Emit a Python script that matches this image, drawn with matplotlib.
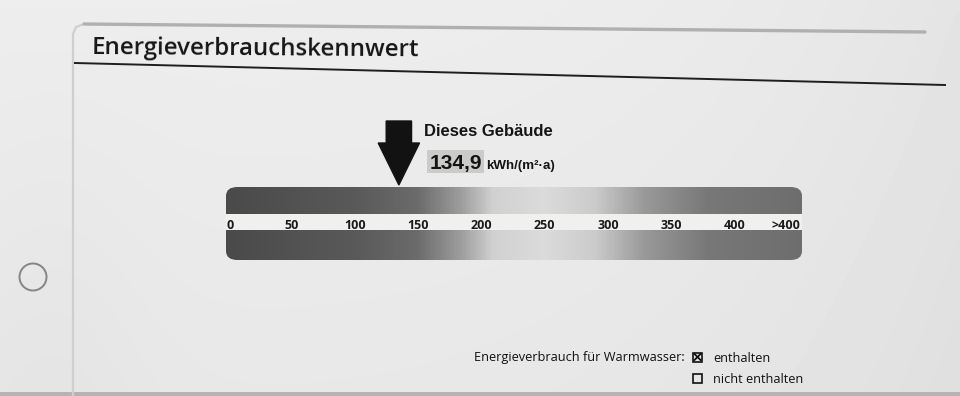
import numpy as np
import matplotlib.pyplot as plt
from matplotlib.patches import FancyBboxPatch, Rectangle, Circle, Polygon
from matplotlib.colors import LinearSegmentedColormap

# chart content
title = "Energieverbrauchskennwert"
building_label = "Dieses Gebäude"
building_value = 134.9
unit_label = "kWh/(m²·a)"
tick_values = [0, 50, 100, 150, 200, 250, 300, 350, 400, 440]
tick_labels = ["0", "50", "100", "150", "200", "250", "300", "350", "400", ">400"]
scale_min, scale_max = -1.5, 453
ww_label = "Energieverbrauch für Warmwasser:"
ww_options = ["enthalten", "nicht enthalten"]
ww_checked = [True, False]

# grey tones of the printed colour scale (value, grey level)
grad_stops = [(0, 0.29), (100, 0.35), (150, 0.42), (185, 0.62), (210, 0.82),
              (250, 0.86), (290, 0.80), (330, 0.60), (380, 0.47), (453, 0.43)]

sans = ["Open Sans", "DejaVu Sans"]
arial = ["Liberation Sans", "DejaVu Sans"]

fig = plt.figure(figsize=(9.6, 3.96), dpi=100)

# --- paper background (pixel coordinates) ---
bg = fig.add_axes([0, 0, 1, 1])
bg.set_xlim(0, 960)
bg.set_ylim(396, 0)
bg.axis("off")
gx = np.linspace(0, 1, 120)
gy = np.linspace(0, 1, 60)
X, Y = np.meshgrid(gx, gy)
paper = 0.93 - 0.035 * X**4 - 0.02 * Y - 0.015 * np.exp(-((X - 0.05) / 0.1) ** 2) * Y
bg.imshow(paper, cmap="gray", vmin=0, vmax=1, extent=(0, 960, 396, 0),
          aspect="auto", interpolation="bilinear", zorder=0)
bg.add_patch(Rectangle((0, 392), 960, 4, color="#b4b4b2", lw=0, zorder=1))

# section box outline and title rule
bg.plot([73, 73, 76, 84], [396, 34, 27, 24], color="#cfcfcd", lw=1.6, zorder=2)
bg.plot([84, 925], [24, 32], color="#b0b0ae", lw=2.4, zorder=2, solid_capstyle="round")
bg.plot([75, 945], [63, 85], color="#1e1e1e", lw=1.4, zorder=3)
bg.text(92, 49, title, family=sans, fontsize=17.3, fontweight="semibold", color="#161616",
        va="center", ha="left", rotation=-0.4, zorder=4)

# punched hole
bg.add_patch(Circle((33, 277), 13.5, facecolor="none", edgecolor="#858583", lw=1.4, zorder=2))

# --- scale axes: x in kWh, y in pixels ---
sc = fig.add_axes([226 / 960, 1 - 262 / 396, (802 - 226) / 960, (262 - 115) / 396])
sc.set_xlim(scale_min, scale_max)
sc.set_ylim(262, 115)
sc.axis("off")

v0, v1 = grad_stops[0][0], grad_stops[-1][0]
cmap = LinearSegmentedColormap.from_list(
    "scale", [((v - v0) / (v1 - v0), (g, g, g)) for v, g in grad_stops])
grad = np.linspace(0, 1, 400).reshape(1, -1)
img = sc.imshow(grad, cmap=cmap, extent=(scale_min, scale_max, 260, 187),
                aspect="auto", interpolation="bilinear", zorder=2)
box = FancyBboxPatch((scale_min, 187), scale_max - scale_min, 260 - 187,
                     boxstyle="round,pad=0,rounding_size=9", transform=sc.transData,
                     facecolor="none", edgecolor="none")
sc.add_patch(box)
img.set_clip_path(box)
sc.add_patch(Rectangle((scale_min - 1, 214), scale_max - scale_min + 2, 16,
                       facecolor="#f0f0ee", edgecolor="none", zorder=3))

for v, lab in zip(tick_values, tick_labels):
    sc.text(v + (1.5 if v == 0 else 0), 225, lab, family=sans, fontsize=9,
            fontweight="bold", color="#1a1a1a", ha="center", va="center", zorder=4)

# arrow pointing at this building's value
shaft_w, head_w = 10, 16.3
arrow = Polygon([(building_value - shaft_w, 121), (building_value + shaft_w, 121),
                 (building_value + shaft_w, 143), (building_value + head_w, 143),
                 (building_value, 185), (building_value - head_w, 143),
                 (building_value - shaft_w, 143)], closed=True,
                facecolor="#121212", edgecolor="#121212", zorder=5)
sc.add_patch(arrow)

bg.text(424, 131, building_label, family=arial, fontsize=12, fontweight="bold",
        color="#141414", ha="left", va="center", zorder=5)
bg.add_patch(Rectangle((427, 150), 57, 23, facecolor="#cbcbc9", edgecolor="none", zorder=4))
bg.text(430, 163, f"{building_value:.1f}".replace(".", ","), family=arial, fontsize=15,
        fontweight="bold", color="#141414", ha="left", va="center", zorder=5)
bg.text(486, 166, unit_label, family=arial, fontsize=9.6, fontweight="bold",
        color="#141414", ha="left", va="center", zorder=5)

# hot water note
bg.text(474, 358, ww_label, family=sans, fontsize=9.15, color="#111111",
        ha="left", va="center", zorder=5)
for i, (opt, chk) in enumerate(zip(ww_options, ww_checked)):
    yc = 357 + i * 21.5
    bg.add_patch(Rectangle((693, yc - 4.5), 9, 9, facecolor="none", edgecolor="#111111",
                           lw=1.2, zorder=5))
    if chk:
        bg.plot([694.5, 700.5], [yc - 3, yc + 3], color="#111111", lw=1.3, zorder=5)
        bg.plot([694.5, 700.5], [yc + 3, yc - 3], color="#111111", lw=1.3, zorder=5)
    bg.text(713, yc + 1, opt, family=sans, fontsize=9.15, color="#111111",
            ha="left", va="center", zorder=5)

fig.savefig("out.png", dpi=100)
